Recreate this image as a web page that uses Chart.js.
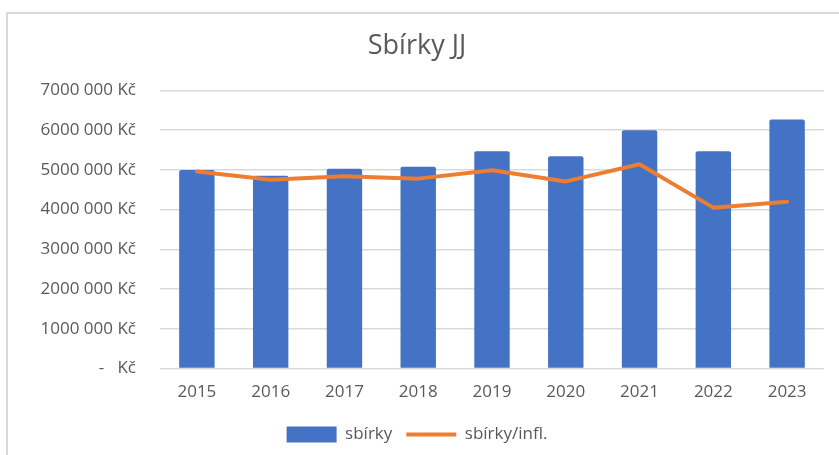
<!DOCTYPE html>
<html lang="cs">
<head>
<meta charset="UTF-8">
<title>Sbírky JJ</title>
<script src="https://cdn.jsdelivr.net/npm/chart.js"></script>
<style>
  html, body { margin: 0; padding: 0; background: #fff; overflow: hidden; }
  #frame { position: absolute; left: 6px; top: 12px; width: 900px; height: 500px;
           border-left: 2px solid #d9d9d9; border-top: 2px solid #d9d9d9; }
  #wrap { position: absolute; left: 0; top: 0; width: 839px; height: 455px; }
</style>
</head>
<body>
<div id="frame"></div>
<div id="wrap"><canvas id="chart"></canvas></div>
<script>
const years = ['2015', '2016', '2017', '2018', '2019', '2020', '2021', '2022', '2023'];
const sbirky = [5000000, 4850000, 5030000, 5080000, 5470000, 5340000, 6000000, 5470000, 6270000];
const sbirkyInfl = [4960000, 4750000, 4840000, 4780000, 4990000, 4710000, 5140000, 4050000, 4200000];
const yTickLabels = ['-   Kč', '1000 000 Kč', '2000 000 Kč', '3000 000 Kč', '4000 000 Kč',
                     '5000 000 Kč', '6000 000 Kč', '7000 000 Kč'];

const gray = '#595959';
const font = "'Open Sans', 'Noto Sans', sans-serif";

new Chart(document.getElementById('chart'), {
  data: {
    labels: years,
    datasets: [
      {
        type: 'line',
        label: 'sbírky/infl.',
        data: sbirkyInfl,
        borderColor: '#ED7D31',
        backgroundColor: '#ED7D31',
        borderWidth: 4,
        pointRadius: 0,
        pointStyle: 'line',
        borderJoinStyle: 'round',
        borderCapStyle: 'round',
        tension: 0,
        order: 1
      },
      {
        type: 'bar',
        label: 'sbírky',
        data: sbirky,
        backgroundColor: '#4472C4',
        borderWidth: 0,
        borderRadius: 2,
        borderSkipped: 'bottom',
        pointStyle: 'rect',
        categoryPercentage: 1,
        barPercentage: 0.48,
        order: 2
      }
    ]
  },
  options: {
    responsive: true,
    maintainAspectRatio: false,
    animation: false,
    layout: { padding: { top: 12, right: 15, left: 10, bottom: 2 } },
    plugins: {
      title: {
        display: true,
        text: 'Sbírky JJ',
        color: gray,
        font: { family: font, size: 27, weight: 'normal' },
        padding: { top: 18, bottom: 28 }
      },
      legend: {
        position: 'bottom',
        reverse: true,
        labels: {
          usePointStyle: true,
          pointStyleWidth: 50,
          boxWidth: 50,
          boxHeight: 16,
          padding: 14,
          color: gray,
          font: { family: font, size: 17 }
        }
      },
      tooltip: { enabled: false }
    },
    scales: {
      x: {
        grid: { display: false },
        border: { display: false },
        afterFit: scale => { scale.height += 5; },
        ticks: { color: gray, font: { family: font, size: 17 }, padding: 5 }
      },
      y: {
        min: 0,
        max: 7000000,
        border: { display: false },
        grid: { color: '#d9d9d9', lineWidth: 1.5, drawTicks: false },
        afterFit: scale => { scale.width = 150; },
        ticks: {
          stepSize: 1000000,
          color: gray,
          padding: 24,
          font: { family: font, size: 17 },
          callback: v => yTickLabels[Math.round(v / 1000000)]
        }
      }
    }
  }
});
</script>
</body>
</html>
